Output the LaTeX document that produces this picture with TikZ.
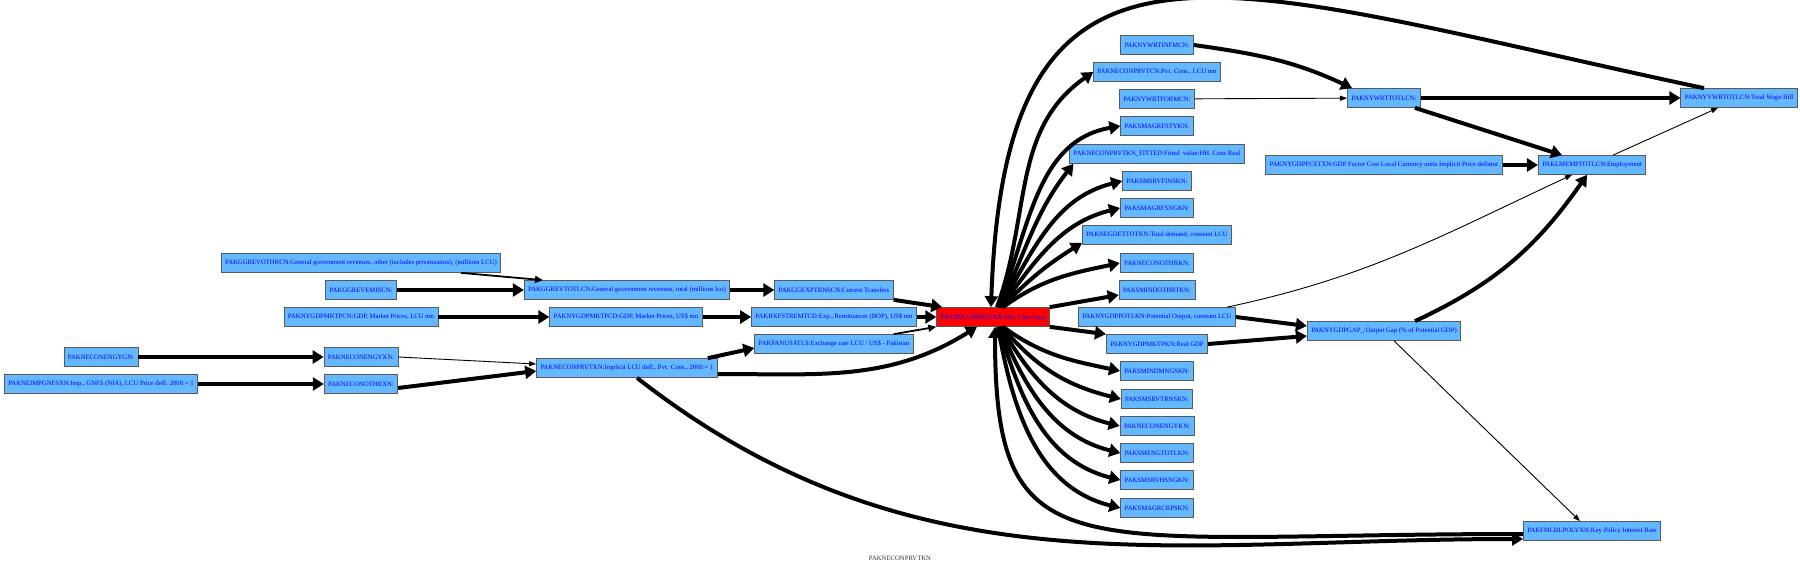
\documentclass[tikz,border=0pt]{standalone}
\usepackage{fontspec}
\setmainfont{Liberation Serif}
\usetikzlibrary{arrows.meta, calc}
\definecolor{varblue}{RGB}{99,184,255}

\begin{document}
\begin{tikzpicture}[
			x=1pt, y=1pt,
			var/.style={rectangle, draw=black!65, line width=0.7pt, fill=varblue, text=blue, minimum height=19pt, inner xsep=4pt, inner ysep=0pt, font=\fontsize{6.7}{8}\selectfont},
			arrow/.style={-{Triangle[length=11pt,width=13pt]}, line width=4pt},
			midarrow/.style={-{Triangle[length=8pt,width=7pt]}, line width=1.8pt},
			thinarrow/.style={-{Triangle[length=7pt,width=5pt]}, line width=0.9pt}
			]
			\useasboundingbox (0,0) rectangle (1800,566);
			
			\node[var] (othrcn) at (361,303) {PAKGGREVOTHRCN:General government revenues, other (includes privatization), (millions LCU)};
			\node[var] (emiscn) at (361,276) {PAKGGREVEMISCN:};
			\node[var] (mktpcn) at (361,249) {PAKNYGDPMKTPCN:GDP, Market Prices, LCU mn};
			\node[var] (engygn) at (101,209) {PAKNECONENGYGN:};
			\node[var] (impgnfs) at (101,182) {PAKNEIMPGNFSXN:Imp., GNFS (NIA), LCU Price defl. 2000 = 1};
			\node[var] (engyxn) at (361,209) {PAKNECONENGYXN:};
			\node[var] (othrxn) at (361,182) {PAKNECONOTHRXN:};
			
			\node[var] (revtotl) at (627,276) {PAKGGREVTOTLCN:General government revenues, total (millions lcu)};
			\node[var] (mktpcd) at (626,249) {PAKNYGDPMKTPCD:GDP, Market Prices, US\$ mn};
			\node[var] (prvtxn) at (627,198) {PAKNECONPRVTXN:Implicit LCU defl., Pvt. Cons., 2000 = 1};
			\node[var] (trnscn) at (834,276) {PAKGGEXPTRNSCN:Current Transfers};
			\node[var] (remtcd) at (834,249) {PAKBXFSTREMTCD:Exp., Remittances (BOP), US\$ mn};
			\node[var] (usatls) at (834,222) {PAKPANUSATLS:Exchange rate LCU / US\$ - Pakistan};
			
			\node[var, fill=red] (hhcons) at (993,249) {PAKNECONPRVTKN:HH. Cons Real};
			
			\node[var] (infmcn) at (1157,521) {PAKNYWRTINFMCN:};
			\node[var] (pvtcons) at (1157,494) {PAKNECONPRVTCN:Pvt. Cons., LCU mn};
			\node[var] (formcn) at (1157,467) {PAKNYWRTFORMCN:};
			\node[var] (fstykn) at (1157,440) {PAKSMAGRFSTYKN:};
			\node[var] (fitted) at (1157,412) {PAKNECONPRVTKN\_FITTED:Fitted\ \ value:HH. Cons Real};
			\node[var] (finskn) at (1157,385) {PAKSMSRVFINSKN:};
			\node[var] (fsngkn) at (1157,358) {PAKSMAGRFSNGKN:};
			\node[var] (negdet) at (1157,331) {PAKNEGDETTOTKN:Total demand, constant LCU};
			\node[var] (othrkn) at (1157,303) {PAKNECONOTHRKN:};
			\node[var] (othrtkn) at (1157,276) {PAKSMINDOTHRTKN:};
			\node[var] (potlkn) at (1157,249) {PAKNYGDPPOTLKN:Potential Output, constant LCU};
			\node[var] (mktpkn) at (1157,222) {PAKNYGDPMKTPKN:Real GDP};
			\node[var] (mngskn) at (1157,195) {PAKSMINDMNGSKN:};
			\node[var] (trnskn) at (1157,167) {PAKSMSRVTRNSKN:};
			\node[var] (engykn) at (1157,140) {PAKNECONENGYKN:};
			\node[var] (engtotl) at (1157,113) {PAKSMENGTOTLKN:};
			\node[var] (hsngkn) at (1157,86) {PAKSMSRVHSNGKN:};
			\node[var] (crpskn) at (1157,58) {PAKSMAGRCRPSKN:};
			
			\node[var] (wrttotl) at (1384,468) {PAKNYWRTTOTLCN:};
			\node[var] (fcstxn) at (1384,401) {PAKNYGDPFCSTXN:GDP Factor Cost Local Currency units Implicit Price deflator};
			\node[var] (gdpgap) at (1384,235) {PAKNYGDPGAP\_:Output Gap (\% of Potential GDP)};
			\node[var] (employ) at (1592,401) {PAKLMEMPTOTLCN:Employment};
			\node[var] (policy) at (1592,35) {PAKFMLBLPOLYXN:Key Policy Interest Rate};
			\node[var] (wagebill) at (1739,468) {PAKNYYWBTOTLCN:Total Wage Bill};
			
			\node[font=\fontsize{6.7}{8}\selectfont, text=black!80] (caption) at (900,8) {PAKNECONPRVTKN};
			
			\draw[midarrow] ([xshift=100]othrcn.south) -- ([xshift=-84]revtotl.north);
			\draw[arrow] (emiscn) -- (revtotl);
			\draw[arrow] (mktpcn) -- (mktpcd);
			\draw[arrow] (engygn) -- (engyxn);
			\draw[arrow] (impgnfs) -- (othrxn);
			\draw[thinarrow] (engyxn.east) -- ([yshift=4]prvtxn.west);
			\draw[arrow] ([yshift=-4]othrxn.east) -- ([yshift=-3]prvtxn.west);
			\draw[arrow] (revtotl) -- (trnscn);
			\draw[arrow] (mktpcd) -- (remtcd);
			\draw[arrow] ([xshift=-10]prvtxn.north east) -- ([yshift=-4]usatls.west);
			\draw[arrow] ([yshift=-6]prvtxn.east) to[out=0, in=212] ([xshift=-16]hhcons.south);
			\draw[arrow] ([xshift=10]prvtxn.south) to[out=-38, in=180] ([yshift=-8]policy.west);
			\draw[arrow] (trnscn.south east) -- ([xshift=6]hhcons.north west);
			\draw[arrow] (remtcd) -- (hhcons);
			\draw[midarrow] ([xshift=-20]usatls.north east) -- (hhcons.south west);
			
			\draw[arrow] ([xshift=-35]wagebill.north) to[out=168, in=88, out distance=500pt, in distance=420pt] ([xshift=-2]hhcons.north);
			\draw[arrow] ([yshift=-3]policy.west) to[out=180, in=-90, out distance=450pt, in distance=250pt] ([xshift=2]hhcons.south);
			
			\draw[arrow] ([xshift=4]hhcons.north) to[out=70, in=215] (pvtcons.west);
			\draw[arrow] ([xshift=5]hhcons.north) to[out=68, in=190] (fstykn.west);
			\draw[arrow] ([xshift=6]hhcons.north) to[out=64, in=232] ([xshift=4]fitted.south west);
			\draw[arrow] ([xshift=7]hhcons.north) to[out=60, in=194] (finskn.west);
			\draw[arrow] ([xshift=8]hhcons.north) to[out=54, in=194] (fsngkn.west);
			\draw[arrow] ([xshift=9]hhcons.north) to[out=46, in=212] ([yshift=2]negdet.south west);
			\draw[arrow] ([xshift=10]hhcons.north) to[out=36, in=192] (othrkn.west);
			\draw[arrow] (hhcons.north east) -- ([yshift=-5]othrtkn.west);
			\draw[arrow] (hhcons.south east) -- (mktpkn.north west);
			\draw[arrow] ([xshift=10]hhcons.south) to[out=-36, in=168] (mngskn.west);
			\draw[arrow] ([xshift=9]hhcons.south) to[out=-50, in=166] (trnskn.west);
			\draw[arrow] ([xshift=8]hhcons.south) to[out=-60, in=166] (engykn.west);
			\draw[arrow] ([xshift=7]hhcons.south) to[out=-68, in=166] (engtotl.west);
			\draw[arrow] ([xshift=6]hhcons.south) to[out=-74, in=166] (hsngkn.west);
			\draw[arrow] ([xshift=5]hhcons.south) to[out=-80, in=166] (crpskn.west);
			
			\draw[arrow] (infmcn.east) to[out=-8, in=155] ([xshift=5]wrttotl.north west);
			\draw[thinarrow] (formcn) -- (wrttotl);
			\draw[arrow] (wrttotl) -- (wagebill);
			\draw[arrow] ([xshift=-6]wrttotl.south east) -- ([xshift=-30]employ.north);
			\draw[arrow] (fcstxn) -- (employ);
			\draw[thinarrow] ([xshift=21]employ.north) -- ([xshift=-21]wagebill.south);
			\draw[arrow] (potlkn.east) -- ([yshift=5]gdpgap.west);
			\draw[arrow] (mktpkn.east) -- ([yshift=-5]gdpgap.west);
			\draw[thinarrow] ([xshift=70]potlkn.north) to[out=12, in=205] ([xshift=-20]employ.south);
			\draw[arrow] ([xshift=31]gdpgap.north) to[out=25, in=235] ([xshift=-5]employ.south);
			\draw[thinarrow] ([xshift=10]gdpgap.south) -- ([xshift=-12]policy.north);
		\end{tikzpicture}
\end{document}
